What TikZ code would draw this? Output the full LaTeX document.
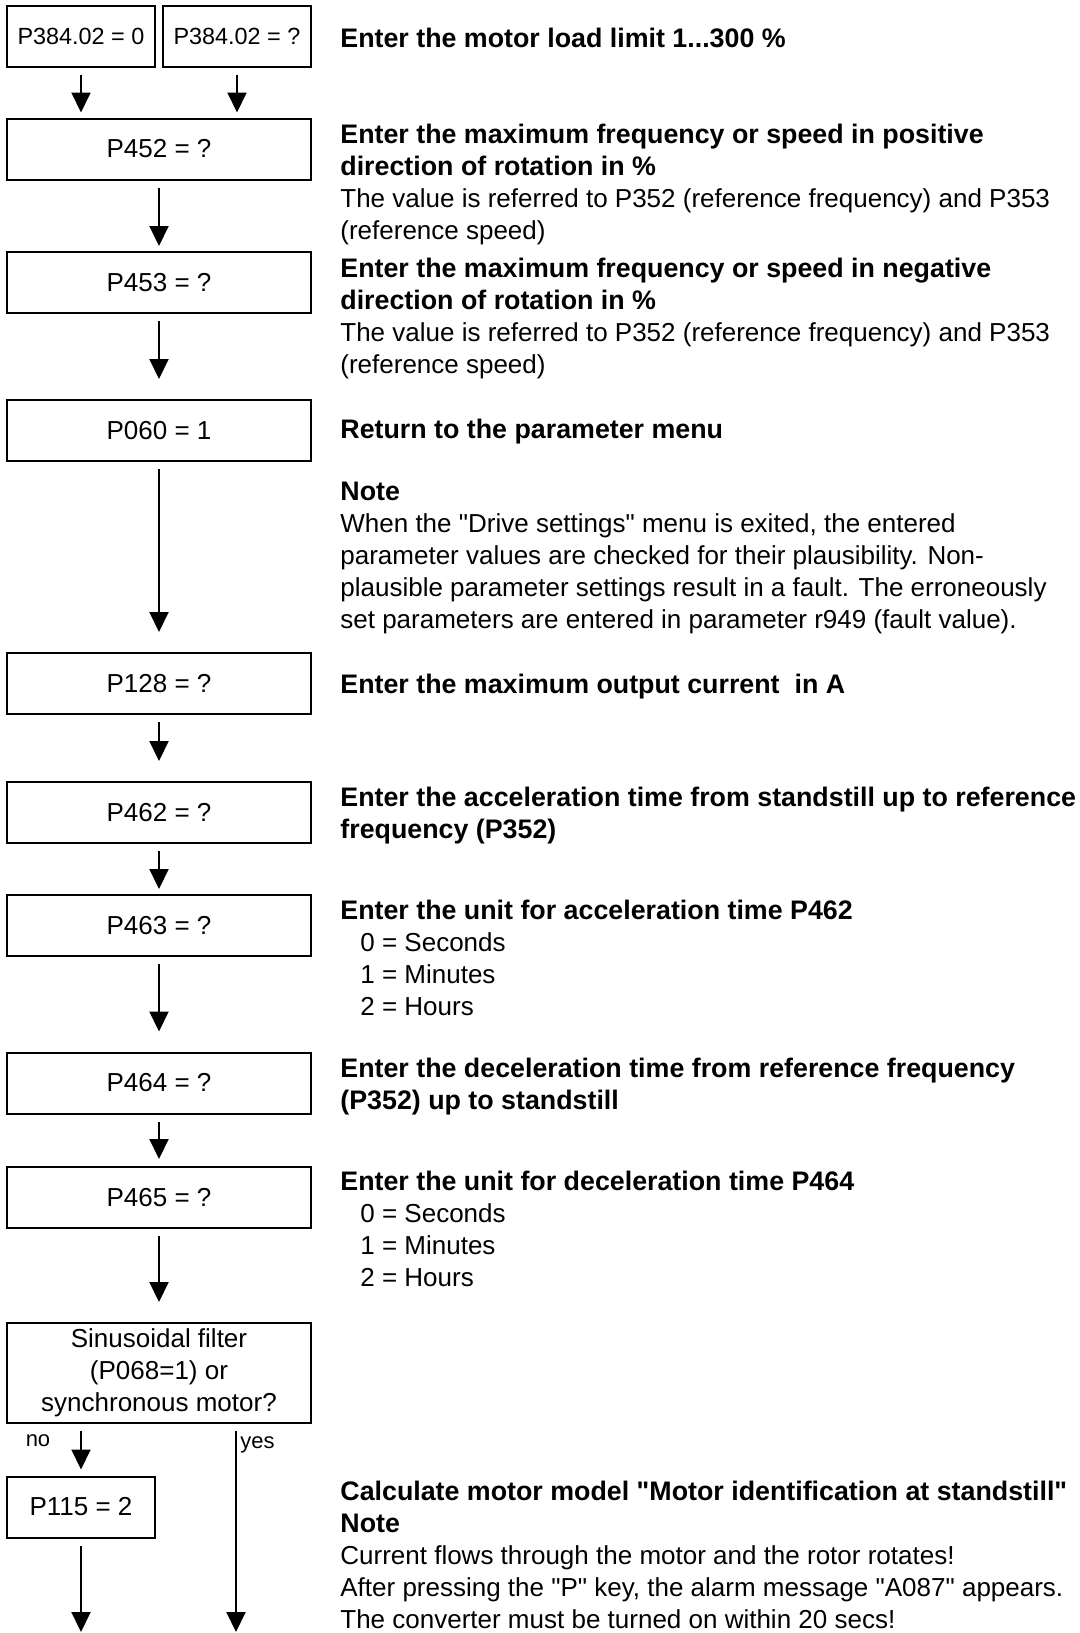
\documentclass[tikz,border=0pt]{standalone}
\usepackage{fontspec}
\setmainfont{Liberation Sans}
\usetikzlibrary{arrows.meta,positioning}
\newcommand{\dq}{\textquotedbl}
\newcommand{\hd}[1]{{\fontsize{13.4}{16}\selectfont\bfseries #1}}

\begin{document}
\begin{tikzpicture}[x=0.5pt,y=-0.5pt,font=\fontsize{13}{16}\selectfont,
  box/.style={draw,line width=1pt,minimum height=30.5pt,inner sep=0pt,align=center},
  widebox/.style={box,minimum width=152pt},
  smallbox/.style={box,minimum width=74pt},
  info/.style={anchor=base west,align=left,inner sep=0pt},
  flow/.style={line width=1pt,-{Triangle[length=10pt,width=9.5pt]},shorten <=3.5pt,shorten >=2.5pt},
  far/.style={shorten >=10pt},
  tag/.style={font=\fontsize{11}{13}\selectfont,inner sep=0pt}]
  \useasboundingbox (0,0) rectangle (1080,1633);
  % boxes of the flow
  \node[smallbox,font=\fontsize{11.7}{16}\selectfont] (p384a) at (81,36) {P384.02 = 0};
  \node[smallbox,font=\fontsize{11.7}{16}\selectfont] (p384b) at (237,36) {P384.02 = ?};
  \node[widebox] (p452) at (159,149) {P452 = ?};
  \node[widebox] (p453) at (159,282.5) {P453 = ?};
  \node[widebox] (p060) at (159,430.5) {P060 = 1};
  \node[widebox] (p128) at (159,683.5) {P128 = ?};
  \node[widebox] (p462) at (159,812.5) {P462 = ?};
  \node[widebox] (p463) at (159,925.5) {P463 = ?};
  \node[widebox] (p464) at (159,1083) {P464 = ?};
  \node[widebox] (p465) at (159,1197.5) {P465 = ?};
  \node[widebox,minimum height=50pt] (sinus) at (159,1373) {Sinusoidal filter\\(P068=1) or\\synchronous motor?};
  \node[smallbox] (p115) at (81,1507) {P115 = 2};
  \coordinate (yesend) at (236,1633);\coordinate (noend) at (81,1633);
  % arrows
  \draw[flow] (p384a.south) -- (p384a.south |- p452.north);
  \draw[flow] (p384b.south) -- (p384b.south |- p452.north);
  \draw[flow] (p452) -- (p453);
  \draw[flow,far] (p453) -- (p060);
  \draw[flow,far] (p060) -- (p128);
  \draw[flow,far] (p128) -- (p462);
  \draw[flow] (p462) -- (p463);
  \draw[flow,far] (p463) -- (p464);
  \draw[flow,shorten >=3.5pt] (p464) -- (p465);
  \draw[flow,far] (p465) -- (sinus);
  \draw[flow,shorten >=3pt] (sinus.south -| p115) -- (p115);
  \draw[flow,shorten >=0.5pt] (sinus.south -| yesend) -- (yesend);
  \draw[flow,shorten >=0.5pt] (p115) -- (noend);
  \node[tag] (nolabel) at (38,1441) {no};
  \node[tag,anchor=west] (yeslabel) at (240,1445) {yes};
  % explanations (anchored at the baseline of their last line)
  \node[info] (t384) at (340,47) {\hd{Enter the motor load limit 1...300 \%}};
  \node[info] (t452) at (340,239) {\hd{Enter the maximum frequency or speed in positive}\\\hd{direction of rotation in \%}\\The value is referred to P352 (reference frequency) and P353\\(reference speed)};
  \node[info] (t453) at (340,373) {\hd{Enter the maximum frequency or speed in negative}\\\hd{direction of rotation in \%}\\The value is referred to P352 (reference frequency) and P353\\(reference speed)};
  \node[info] (t060) at (340,438) {\hd{Return to the parameter menu}};
  \node[info] (tnote) at (340,628) {\hd{Note}\\When the \dq Drive settings\dq{} menu is exited, the entered\\parameter values are checked for their plausibility. Non-\\plausible parameter settings result in a fault. The erroneously\\set parameters are entered in parameter r949 (fault value).};
  \node[info] (t128) at (340,693) {\hd{Enter the maximum output current\ \ in A}};
  \node[info] (t462) at (340,838) {\hd{Enter the acceleration time from standstill up to reference}\\\hd{frequency (P352)}};
  \node[info] (t463) at (340,1015) {\hd{Enter the unit for acceleration time P462}\\\hspace*{10pt}0 = Seconds\\\hspace*{10pt}1 = Minutes\\\hspace*{10pt}2 = Hours};
  \node[info] (t464) at (340,1109) {\hd{Enter the deceleration time from reference frequency}\\\hd{(P352) up to standstill}};
  \node[info] (t465) at (340,1286) {\hd{Enter the unit for deceleration time P464}\\\hspace*{10pt}0 = Seconds\\\hspace*{10pt}1 = Minutes\\\hspace*{10pt}2 = Hours};
  \node[info] (t115) at (340,1628) {\hd{Calculate motor model \dq Motor identification at standstill\dq}\\\hd{Note}\\Current flows through the motor and the rotor rotates!\\After pressing the \dq P\dq{} key, the alarm message \dq A087\dq{} appears.\\The converter must be turned on within 20 secs!};
\end{tikzpicture}
\end{document}
